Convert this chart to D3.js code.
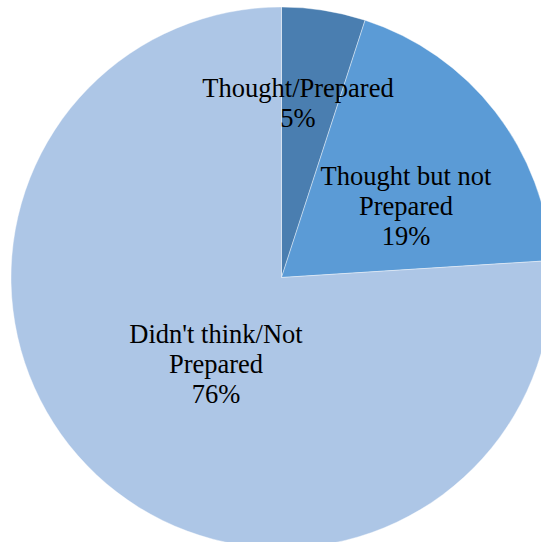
<!DOCTYPE html>
<html>
<head>
<meta charset="utf-8">
<script src="https://cdn.jsdelivr.net/npm/d3@7"></script>
<style>
  html, body { margin: 0; padding: 0; background: #ffffff; }
  svg { display: block; }
</style>
</head>
<body>
<svg id="chart" width="541" height="542"></svg>
<script>
// Survey answers: share of respondents (percent)
const categories = ["Thought/Prepared", "Thought but not Prepared", "Didn't think/Not Prepared"];
const values = [5, 19, 76];
const labelLines = [
  ["Thought/Prepared"],
  ["Thought but not", "Prepared"],
  ["Didn't think/Not", "Prepared"]
];
const colors = ["#4a7eb0", "#5b9bd6", "#adc6e6"];

const width = 541, height = 542;
const cx = 281.5, cy = 277.5, radius = 270.5;

// Label anchor offsets from the pie centre (baseline of the middle line of each block)
const labelOffsets = [[16.5, -165.5], [124.5, -62.5], [-65.5, 95.5]];

const svg = d3.select("#chart");
const g = svg.append("g").attr("transform", `translate(${cx},${cy})`);

const pie = d3.pie().sort(null).value(d => d.value);
const arc = d3.arc().innerRadius(0).outerRadius(radius);

const data = categories.map((c, i) => ({ name: c, value: values[i], lines: labelLines[i], color: colors[i], off: labelOffsets[i] }));
const arcs = pie(data);

g.selectAll("path.slice")
  .data(arcs)
  .join("path")
  .attr("class", "slice")
  .attr("d", arc)
  .attr("fill", d => d.data.color)
  .attr("stroke", "#ffffff")
  .attr("stroke-opacity", 0.5)
  .attr("stroke-width", 0.8);

const lineH = 30;
const fmt = d3.format(".0%");
const total = d3.sum(values);

const labels = g.selectAll("text.label")
  .data(arcs)
  .join("text")
  .attr("class", "label")
  .attr("font-family", "'Liberation Serif', 'Times New Roman', serif")
  .attr("font-size", 26.5)
  .attr("fill", "#000000")
  .attr("text-anchor", "middle");

labels.each(function(d) {
  const lines = d.data.lines.concat([fmt(d.data.value / total)]);
  const n = lines.length;
  const [ox, oy] = d.data.off;
  const t = d3.select(this);
  lines.forEach((ln, i) => {
    t.append("tspan")
      .attr("x", ox)
      .attr("y", oy + (i - (n - 1) / 2) * lineH)
      .text(ln);
  });
});
</script>
</body>
</html>
